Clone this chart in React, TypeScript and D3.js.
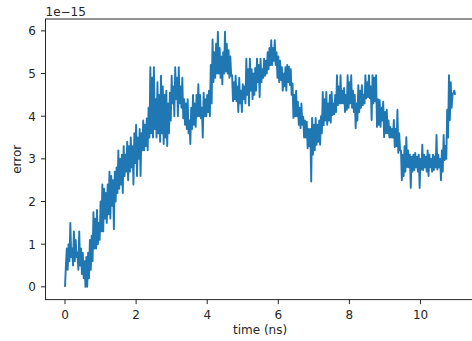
import React from 'react';
import * as d3 from 'd3';

// sampling interval of the series (ns)
const sampleStep = 0.025;

// error values (units of 1e-15), two samples per 0.05 ns
const errorRows: [number, number][] = [
  [0.0, 0.5], [0.9, 0.4], [1.0, 0.6], [1.5, 0.7], [0.9, 0.5], [1.3, 0.6], [1.1, 0.7], [0.8, 0.4], [1.3, 0.5], [0.9, 0.3],
  [0.8, 0.2], [0.6, 0.0], [0.7, 0.0], [0.8, 0.2], [1.1, 0.4], [1.2, 0.6], [1.75, 0.9], [1.6, 0.9], [1.8, 1.0], [1.5, 1.1],
  [2.0, 1.3], [2.4, 1.3], [2.3, 1.6], [2.2, 1.5], [2.4, 1.7], [2.7, 1.6], [2.6, 1.9], [2.5, 1.35], [2.7, 2.0], [2.8, 2.2],
  [3.2, 2.3], [3.0, 2.4], [3.1, 2.2], [3.3, 2.6], [3.1, 2.7], [3.4, 2.5], [3.3, 2.7], [3.5, 2.8], [3.3, 2.4], [3.6, 2.9],
  [3.8, 2.6], [3.5, 3.0], [3.7, 2.6], [3.6, 3.2], [3.9, 3.2], [3.8, 3.3], [3.95, 3.2], [4.2, 3.5], [5.15, 3.6], [4.9, 3.5],
  [5.15, 3.7], [4.4, 3.5], [4.8, 3.6], [4.5, 3.4], [4.95, 3.6], [4.7, 3.35], [4.5, 3.5], [4.6, 3.3], [4.3, 3.6], [4.55, 3.9],
  [4.95, 4.3], [4.7, 4.0], [5.15, 4.4], [4.9, 4.0], [5.15, 4.3], [4.7, 4.2], [4.9, 3.95], [4.4, 3.8], [4.3, 3.7], [4.4, 3.6],
  [3.9, 3.35], [4.2, 3.7], [4.5, 3.8], [4.3, 3.75], [4.5, 4.0], [4.75, 4.0], [4.5, 3.95], [4.2, 3.5], [4.55, 4.0], [4.4, 4.0],
  [4.5, 4.1], [4.6, 4.0], [5.2, 4.3], [5.8, 4.8], [5.5, 4.9], [5.7, 5.0], [5.98, 5.0], [5.6, 4.9], [5.4, 4.75], [5.5, 5.0],
  [5.98, 5.05], [5.7, 5.0], [5.55, 4.9], [5.4, 4.95], [4.96, 4.35], [4.8, 4.4], [4.95, 4.35], [4.7, 4.1], [4.9, 4.3], [4.6, 4.1],
  [4.75, 4.4], [4.7, 4.3], [5.35, 4.5], [5.1, 4.25], [5.35, 4.6], [5.1, 4.4], [5.0, 4.5], [5.13, 4.6], [5.35, 4.8], [5.2, 4.45],
  [5.35, 4.8], [5.1, 4.9], [5.35, 4.95], [5.3, 5.0], [5.5, 5.1], [5.6, 5.2], [5.78, 5.2], [5.6, 5.3], [5.78, 5.2], [5.5, 4.9],
  [5.4, 4.8], [5.3, 4.85], [5.15, 4.6], [5.0, 4.7], [5.15, 4.6], [5.2, 4.8], [5.16, 4.73], [5.1, 4.5], [4.77, 3.96], [4.5, 4.0],
  [4.6, 4.0], [4.34, 3.8], [4.2, 3.72], [4.3, 3.8], [3.99, 3.5], [3.9, 3.5], [3.87, 3.25], [3.7, 3.3], [3.7, 2.47], [3.96, 3.1],
  [3.8, 3.2], [3.96, 3.33], [3.8, 3.4], [3.9, 3.33], [4.0, 3.6], [4.57, 3.79], [4.4, 3.9], [4.57, 3.8], [4.3, 3.9], [4.5, 3.85],
  [4.57, 4.03], [4.3, 4.05], [4.5, 4.1], [4.96, 4.26], [4.7, 4.3], [4.96, 4.3], [4.6, 4.3], [4.66, 4.1], [4.5, 4.15], [4.96, 4.2],
  [4.8, 4.3], [4.96, 4.2], [4.6, 4.1], [4.5, 3.72], [4.3, 3.9], [4.73, 4.1], [4.6, 4.2], [4.73, 4.26], [4.5, 4.3], [4.96, 4.42],
  [4.8, 4.45], [4.96, 4.42], [4.7, 3.91], [4.96, 4.3], [4.9, 4.35], [4.96, 3.75], [4.4, 3.8], [4.38, 3.75], [4.2, 3.9], [4.34, 3.51],
  [4.1, 3.6], [4.15, 3.6], [3.9, 3.5], [3.75, 3.5], [3.7, 3.5], [3.91, 3.28], [3.7, 3.3], [4.15, 3.14], [3.6, 3.2], [3.2, 2.5],
  [3.1, 2.6], [3.3, 2.7], [3.51, 2.81], [3.2, 2.8], [3.1, 2.32], [3.05, 2.7], [3.1, 2.74], [3.14, 2.8], [3.05, 2.7], [3.1, 2.32],
  [3.0, 2.75], [3.33, 2.74], [3.1, 2.8], [3.05, 2.7], [3.2, 2.6], [3.1, 2.8], [3.0, 2.7], [3.1, 2.74], [3.05, 2.8], [3.56, 2.75],
  [3.1, 2.8], [3.0, 2.5], [3.2, 2.7], [3.56, 2.97], [3.3, 3.0], [4.15, 3.5], [4.96, 3.91], [4.8, 4.2], [4.5, 4.55], [4.6, 4.5],
];
const errorValues: number[] = errorRows.flat();

const xTicks = [0, 2, 4, 6, 8, 10];
const yTicks = [0, 1, 2, 3, 4, 5, 6];
const xLabel = 'time (ns)';
const yLabel = 'error';
const offsetLabel = '1e\u221215';

const W = 472;
const H = 341;
const plotLeft = 45.5;
const plotRight = 474.7;
const plotTop = 19;
const plotBottom = 299.6;
const font = 'DejaVu Sans, Liberation Sans, sans-serif';
const ink = '#262626';
const fs = 12;
const tickLen = 4.5;

export default function App() {
  const tMax = (errorValues.length - 1) * sampleStep;
  const xPad = tMax * 0.05;
  const [yMin, yMax] = d3.extent(errorValues) as [number, number];
  const yPad = (yMax - yMin) * 0.05;

  const x = d3.scaleLinear().domain([0 - xPad, tMax + xPad]).range([plotLeft, plotRight]);
  const y = d3.scaleLinear().domain([yMin - yPad, yMax + yPad]).range([plotBottom, plotTop]);

  const line = d3
    .line<number>()
    .x((_, i) => x(i * sampleStep))
    .y((d) => y(d));

  return (
    <svg
      width={W}
      height={H}
      style={{ position: 'absolute', left: 0, top: 0, background: '#fff' }}
      fontFamily={font}
    >
      <rect x={0} y={0} width={W} height={H} fill="#fff" />
      <path
        d={line(errorValues) || ''}
        fill="none"
        stroke="#1f77b4"
        strokeWidth={1.9}
        strokeLinejoin="round"
      />
      {/* spines */}
      <rect
        x={plotLeft}
        y={plotTop}
        width={plotRight - plotLeft}
        height={plotBottom - plotTop}
        fill="none"
        stroke={ink}
        strokeWidth={1}
      />
      {/* x ticks */}
      {xTicks.map((t) => (
        <g key={'x' + t}>
          <line x1={x(t)} x2={x(t)} y1={plotBottom} y2={plotBottom + tickLen} stroke={ink} strokeWidth={1} />
          <text x={x(t)} y={319} textAnchor="middle" fontSize={fs} fill={ink}>
            {t}
          </text>
        </g>
      ))}
      {/* y ticks */}
      {yTicks.map((t) => (
        <g key={'y' + t}>
          <line x1={plotLeft - tickLen} x2={plotLeft} y1={y(t)} y2={y(t)} stroke={ink} strokeWidth={1} />
          <text x={36} y={y(t) + 4.4} textAnchor="end" fontSize={fs} fill={ink}>
            {t}
          </text>
        </g>
      ))}
      <text x={plotLeft} y={15.5} fontSize={fs} fill={ink}>
        {offsetLabel}
      </text>
      <text x={(plotLeft + plotRight) / 2} y={334} textAnchor="middle" fontSize={fs} fill={ink}>
        {xLabel}
      </text>
      <text
        transform={`translate(21, ${(plotTop + plotBottom) / 2}) rotate(-90)`}
        textAnchor="middle"
        fontSize={fs}
        fill={ink}
      >
        {yLabel}
      </text>
    </svg>
  );
}
